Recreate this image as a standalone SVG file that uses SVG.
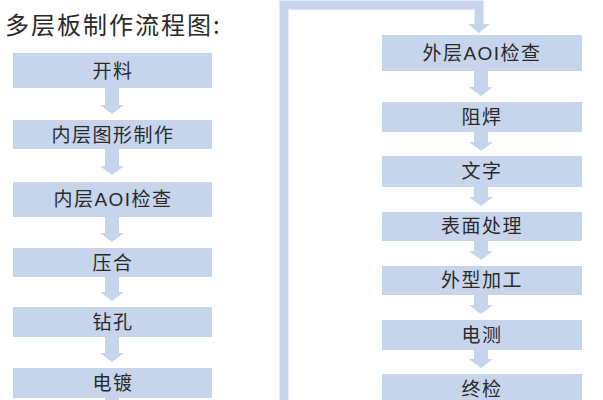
<svg xmlns="http://www.w3.org/2000/svg" width="603" height="400" viewBox="0 0 603 400">
<style>
.box{fill:#C6D5EC}
.arr{fill:#C6D5EC}
.lbl{font-family:"Liberation Sans","Noto Sans CJK SC",sans-serif;font-size:19px;fill:#2a2a2a;text-anchor:middle;letter-spacing:1.5px}
.title{font-family:"Noto Sans CJK SC",sans-serif;font-size:24px;fill:#2a2a2a;letter-spacing:2px}
</style>
<rect width="603" height="400" fill="#ffffff"/>
<text class="title" x="5" y="34">多层板制作流程图:</text>
<g id="connectors">
<polyline points="284,404 284,5 479,5 479,25" fill="none" stroke="#C6D5EC" stroke-width="9"/>
<polygon class="arr" points="468,24 490,24 479,33"/>
<polygon class="arr" points="105,88 119,88 119,105 124,105 112,114 100,105 105,105"/>
<polygon class="arr" points="105,149 119,149 119,166 124,166 112,175 100,166 105,166"/>
<polygon class="arr" points="105,217 119,217 119,233 124,233 112,242 100,233 105,233"/>
<polygon class="arr" points="105,277 119,277 119,292 124,292 112,301 100,292 105,292"/>
<polygon class="arr" points="105,337 119,337 119,353 124,353 112,362 100,353 105,353"/>
<rect class="arr" x="105" y="397" width="14" height="5"/>
<polygon class="arr" points="474,71 488,71 488,87 493,87 481,96 469,87 474,87"/>
<polygon class="arr" points="474,132 488,132 488,142 493,142 481,151 469,142 474,142"/>
<polygon class="arr" points="474,187 488,187 488,197 493,197 481,206 469,197 474,197"/>
<polygon class="arr" points="474,241 488,241 488,251 493,251 481,260 469,251 474,251"/>
<polygon class="arr" points="474,295 488,295 488,305 493,305 481,314 469,305 474,305"/>
<polygon class="arr" points="474,350 488,350 488,359 493,359 481,368 469,359 474,359"/>
</g>
<g id="n1"><rect class="box" x="13" y="53" width="199" height="35"/><text class="lbl" x="113" y="78">开料</text></g>
<g id="n2"><rect class="box" x="13" y="120" width="199" height="29"/><text class="lbl" x="113" y="142">内层图形制作</text></g>
<g id="n3"><rect class="box" x="13" y="182" width="199" height="35"/><text class="lbl" x="113" y="206">内层AOI检查</text></g>
<g id="n4"><rect class="box" x="13" y="248" width="199" height="29"/><text class="lbl" x="113" y="270">压合</text></g>
<g id="n5"><rect class="box" x="13" y="307" width="199" height="30"/><text class="lbl" x="113" y="329">钻孔</text></g>
<g id="n6"><rect class="box" x="13" y="368" width="199" height="30"/><text class="lbl" x="113" y="390">电镀</text></g>
<g id="n7"><rect class="box" x="382" y="35" width="200" height="36"/><text class="lbl" x="482" y="60">外层AOI检查</text></g>
<g id="n8"><rect class="box" x="382" y="102" width="200" height="30"/><text class="lbl" x="482" y="124">阻焊</text></g>
<g id="n9"><rect class="box" x="382" y="156" width="200" height="31"/><text class="lbl" x="482" y="178">文字</text></g>
<g id="n10"><rect class="box" x="382" y="212" width="200" height="29"/><text class="lbl" x="482" y="233">表面处理</text></g>
<g id="n11"><rect class="box" x="382" y="266" width="200" height="29"/><text class="lbl" x="482" y="287">外型加工</text></g>
<g id="n12"><rect class="box" x="382" y="320" width="200" height="30"/><text class="lbl" x="482" y="342">电测</text></g>
<g id="n13"><rect class="box" x="382" y="374" width="200" height="30"/><text class="lbl" x="482" y="396">终检</text></g>
</svg>
